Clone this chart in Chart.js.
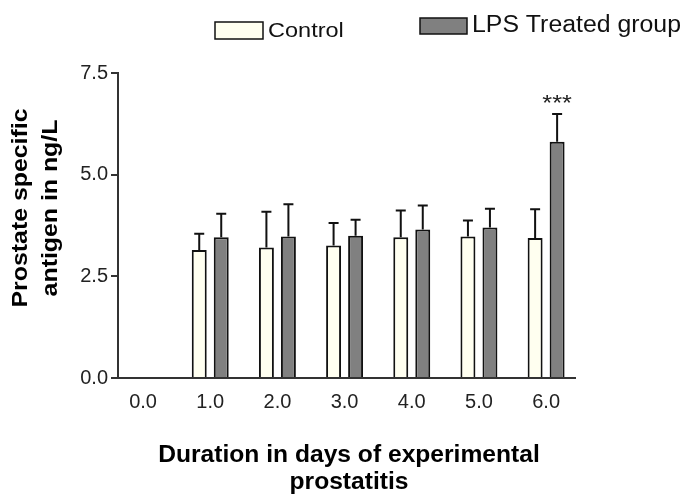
<!DOCTYPE html>
<html>
<head>
<meta charset="utf-8">
<script src="https://cdn.jsdelivr.net/npm/chart.js@4"></script>
<style>
  html, body { margin: 0; padding: 0; background: #fff; }
  #wrap { width: 683px; height: 501px; }
</style>
</head>
<body>
<div id="wrap"><canvas id="psaChart" width="683" height="501"></canvas></div>
<script>
// days of experimental prostatitis (x positions)
const days = [0, 1, 2, 3, 4, 5, 6];
// PSA in ng/L (day 0 has no bars)
const controlMean = [null, 3.15, 3.21, 3.26, 3.46, 3.48, 3.44];
const controlErr = [null, 0.40, 0.88, 0.55, 0.66, 0.39, 0.71];
const lpsMean = [null, 3.46, 3.48, 3.50, 3.65, 3.70, 5.81];
const lpsErr = [null, 0.58, 0.79, 0.39, 0.59, 0.46, 0.68];
const yTicks = [0, 2.5, 5.0, 7.5];
const seriesNames = ["Control", "LPS Treated group"];
const starMark = "***"; // significance over day 6 LPS bar

const FONT = "'Liberation Sans', Arial, sans-serif";

// turn arrays into {x,y} points for the linear x axis
function toPoints(vals) {
  return days.map((d, i) => ({ x: d, y: vals[i] }));
}

// text a bit wider than the stock font, like the original figure
function wideText(ctx, text, x, y, sx) {
  ctx.save();
  ctx.translate(x, y);
  ctx.scale(sx, 1);
  ctx.fillText(text, 0, 0);
  ctx.restore();
}

// error bars (upper only, with a cap)
const errorBars = {
  id: "errorBars",
  afterDatasetsDraw(chart) {
    const ctx = chart.ctx;
    const yScale = chart.scales.y;
    const errs = [controlErr, lpsErr];
    ctx.save();
    ctx.strokeStyle = "#111";
    ctx.lineWidth = 2;
    chart.data.datasets.forEach((ds, di) => {
      const meta = chart.getDatasetMeta(di);
      meta.data.forEach((bar, i) => {
        const v = ds.data[i].y;
        const e = errs[di][i];
        if (v == null || e == null) return;
        const yTop = yScale.getPixelForValue(v + e);
        ctx.beginPath();
        ctx.moveTo(bar.x, bar.y);
        ctx.lineTo(bar.x, yTop);
        ctx.moveTo(bar.x - 5, yTop);
        ctx.lineTo(bar.x + 5, yTop);
        ctx.stroke();
      });
    });
    // stars over the last LPS bar
    const last = days.length - 1;
    const bar = chart.getDatasetMeta(1).data[last];
    const yStar = yScale.getPixelForValue(lpsMean[last] + lpsErr[last]);
    ctx.fillStyle = "#222";
    ctx.font = "22px " + FONT;
    ctx.textAlign = "center";
    ctx.textBaseline = "alphabetic";
    wideText(ctx, starMark, bar.x, yStar - 4, 1.15);
    ctx.restore();
  }
};

// axis titles and legend drawn by hand to match the layout
const extras = {
  id: "extras",
  afterDraw(chart) {
    const ctx = chart.ctx;
    ctx.save();
    ctx.fillStyle = "#000";
    ctx.textAlign = "center";
    ctx.textBaseline = "middle";
    // y title, two lines rotated
    ctx.font = "bold 22px " + FONT;
    ctx.save();
    ctx.translate(0, 208);
    ctx.rotate(-Math.PI / 2);
    wideText(ctx, "Prostate specific", 0, 21, 1.13);
    wideText(ctx, "antigen in ng/L", 0, 51, 1.13);
    ctx.restore();
    // x title
    ctx.font = "bold 23px " + FONT;
    wideText(ctx, "Duration in days of experimental", 349, 456, 1.07);
    wideText(ctx, "prostatitis", 349, 483, 1.07);

    // legend
    ctx.textAlign = "left";
    ctx.lineWidth = 1.5;
    ctx.strokeStyle = "#111";
    ctx.fillStyle = "#fffff0";
    ctx.fillRect(215, 22, 48, 17);
    ctx.strokeRect(215, 22, 48, 17);
    ctx.fillStyle = "#111";
    ctx.font = "21px " + FONT;
    wideText(ctx, seriesNames[0], 268, 31, 1.12);
    ctx.fillStyle = "#808080";
    ctx.fillRect(420, 18, 47, 16);
    ctx.strokeRect(420, 18, 47, 16);
    ctx.fillStyle = "#111";
    ctx.font = "23px " + FONT;
    wideText(ctx, seriesNames[1], 472, 26, 1.08);
    ctx.restore();
  }
};

new Chart(document.getElementById("psaChart"), {
  type: "bar",
  data: {
    datasets: [
      {
        label: seriesNames[0],
        data: toPoints(controlMean),
        backgroundColor: "#fffff0",
        borderColor: "#111",
        borderWidth: 2,
      },
      {
        label: seriesNames[1],
        data: toPoints(lpsMean),
        backgroundColor: "#808080",
        borderColor: "#111",
        borderWidth: 2,
      },
    ],
  },
  options: {
    responsive: false,
    animation: false,
    categoryPercentage: 0.655,
    barPercentage: 0.68,
    layout: { padding: { top: 73, right: 108, left: 0, bottom: 0 } },
    plugins: {
      legend: { display: false },
      tooltip: { enabled: false },
    },
    scales: {
      x: {
        type: "linear",
        min: -0.373,
        max: 6.43,
        offset: false,
        afterFit(scale) { scale.height = 123; },
        afterBuildTicks(scale) { scale.ticks = days.map((d) => ({ value: d })); },
        grid: { display: false, drawTicks: false },
        border: { display: true, color: "#333", width: 2 },
        ticks: {
          padding: 12,
          color: "#222",
          font: { size: 20, family: FONT },
          maxRotation: 0,
          callback: (v) => Number(v).toFixed(1),
        },
      },
      y: {
        min: 0,
        max: 7.5,
        afterFit(scale) { scale.width = 118; },
        afterBuildTicks(scale) { scale.ticks = yTicks.map((v) => ({ value: v })); },
        grid: { drawOnChartArea: false, drawTicks: true, tickLength: 7, color: "#333", lineWidth: 2 },
        border: { display: true, color: "#333", width: 2 },
        ticks: {
          padding: 3,
          color: "#222",
          font: { size: 20, family: FONT },
          callback: (v) => Number(v).toFixed(1),
        },
      },
    },
  },
  plugins: [errorBars, extras],
});
</script>
</body>
</html>
